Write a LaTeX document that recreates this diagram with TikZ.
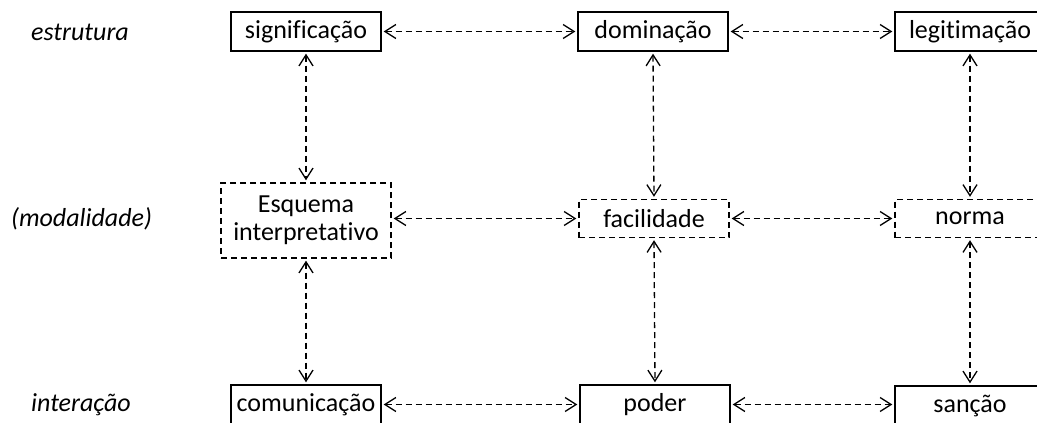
\documentclass[tikz,border=0pt]{standalone}
\usepackage{fontspec}
\setmainfont{Carlito}[Ligatures=NoCommon]
\usetikzlibrary{arrows.meta}
\begin{document}
\begin{tikzpicture}[x=1pt,y=-1pt,
  box/.style={draw, line width=1.4pt, minimum width=150pt, minimum height=39pt, inner sep=0pt, font=\fontsize{26}{28}\selectfont},
  dbox/.style={box, dash pattern=on 6pt off 4pt},
  lbl/.style={anchor=west, inner sep=0pt, font=\fontsize{26}{28}\selectfont\itshape},
  link/.style={line width=1.3pt, dash pattern=on 6pt off 4pt, {Straight Barb[length=11pt,width=14pt,line width=1.3pt]}-{Straight Barb[length=11pt,width=14pt,line width=1.3pt]}, shorten <=2pt, shorten >=2pt}]
\useasboundingbox (0,0) rectangle (1037,423);
\clip (0,0) rectangle (1037,423);
% row labels
\node[lbl] (lest) at (31,32) {estrutura};
\node[lbl] (lmod) at (11,219) {(modalidade)};
\node[lbl] (lint) at (31,405) {interação};
% top row
\node[box] (sig) at (306,31.5) {significação};
\node[box] (dom) at (653,31.5) {dominação};
\node[box] (leg) at (970,31.5) {legitimação};
% middle row
\node[dbox, minimum width=170pt, minimum height=75pt, align=center] (esq) at (306,220.5) {Esquema\\interpretativo};
\node[dbox, minimum height=38pt] (fac) at (654,218.5) {facilidade};
\node[dbox, minimum height=38pt] (nor) at (970,218.5) {norma};
% bottom row
\node[box] (com) at (306,404.5) {comunicação};
\node[box] (pod) at (655,404.5) {poder};
\node[box] (san) at (970,405.5) {sanção};
% horizontal links
\draw[link] (sig.east) -- (dom.west);
\draw[link] (dom.east) -- (leg.west);
\draw[link] (esq.east |- fac.west) -- (fac.west);
\draw[link] (fac.east) -- (nor.west);
\draw[link] (com.east) -- (pod.west);
\draw[link] (pod.east) -- (san.west |- pod.east);
% vertical links
\draw[link] (sig.south) -- (esq.north);
\draw[link] (esq.south) -- (com.north);
\draw[link] (dom.south) -- (fac.north);
\draw[link] (fac.south) -- (pod.north);
\draw[link] (leg.south) -- (nor.north);
\draw[link] (nor.south) -- (san.north);
\end{tikzpicture}
\end{document}
